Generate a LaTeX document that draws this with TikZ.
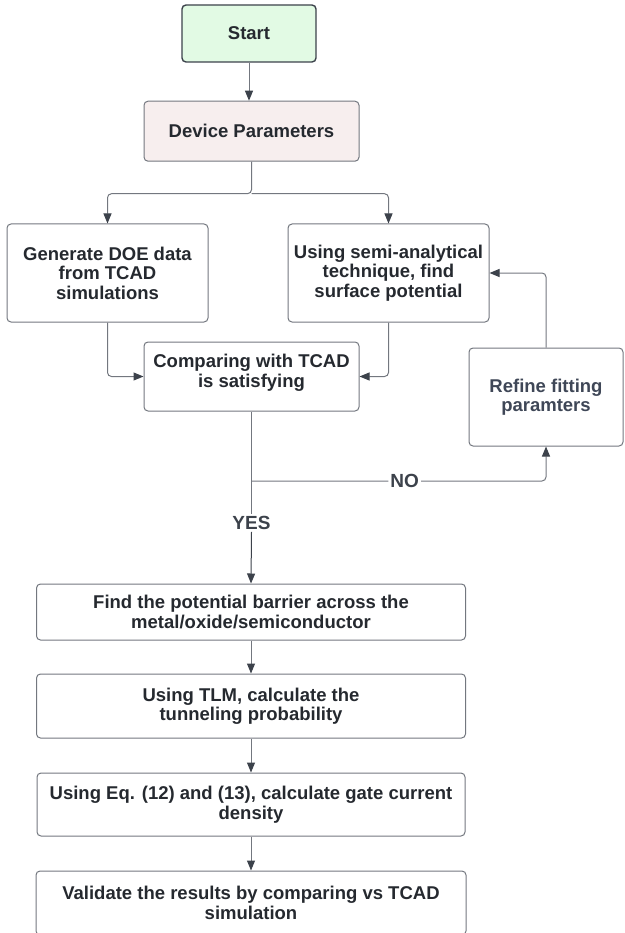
\documentclass[tikz,border=0pt]{standalone}
\usepackage{fontspec}
\setmainfont{Liberation Sans}
\usetikzlibrary{positioning,arrows.meta,calc}
\definecolor{startgreen}{HTML}{E2FAE4}
\definecolor{parampink}{HTML}{F7EEEE}
\definecolor{boxgray}{HTML}{73777F}
\definecolor{arrowgray}{HTML}{3C424B}
\definecolor{textdark}{HTML}{25292F}
\definecolor{refinetext}{HTML}{3F4757}
\tikzset{
    block/.style={rectangle, draw=boxgray, line width=1pt, rounded corners=4pt, text=textdark, align=center, inner sep=0pt, font=\fontsize{18.5}{19.5}\selectfont\bfseries},
    line/.style={draw=boxgray, line width=1pt, rounded corners=4pt, -{Triangle[length=10pt,width=8pt,color=arrowgray]}},
    plain/.style={draw=boxgray, line width=1pt, rounded corners=4pt},
    answer/.style={text=arrowgray, inner sep=2pt, font=\fontsize{19}{20}\selectfont\bfseries}
}
\begin{document}
\begin{tikzpicture}[x=1pt, y=-1pt]
    \useasboundingbox (0,0) rectangle (624,933);
    % Top of the flow
    \node [block, fill=startgreen, draw=arrowgray, line width=1.4pt, minimum width=134pt, minimum height=57pt] (start) at (249,33.5) {Start};
    \node [block, fill=parampink, minimum width=215pt, minimum height=60pt, below=38pt of start.south, anchor=north, xshift=2.5pt] (params) {Device Parameters};
    \node [block, minimum width=201pt, minimum height=98pt] (gen) at (107.5,273) {Generate DOE data\\from TCAD\\simulations};
    \node [block, minimum width=201pt, minimum height=98pt, right=79pt of gen] (semi) {Using semi-analytical\\technique, find\\surface potential};
    \node [block, minimum width=215pt, minimum height=69pt] (comp) at (251.5,376.5) {};
    \node [block, draw=none, fill=none] (comptext) at ($(comp.center)+(0,-3.5)$) {Comparing with TCAD\\is satisfying};
    \node [block, text=refinetext, minimum width=154pt, minimum height=98pt] (refine) at (546,397) {Refine fitting\\paramters};
    \node [answer] (yes) at (251.5,523) {YES};

    % Bottom of the flow
    \node [block, minimum width=429pt, minimum height=56pt] (find) at (251,612) {Find the potential barrier across the\\metal/oxide/semiconductor};
    \node [block, minimum width=429pt, minimum height=64pt, below=33pt of find] (tlm) {Using TLM, calculate the\\tunneling probability};
    \node [block, minimum width=428pt, minimum height=63pt, below=34pt of tlm] (eq) {Using Eq. (12) and (13), calculate gate current\\density};
    \node [block, minimum width=430pt, minimum height=64pt, below=34pt of eq] (valid) {Validate the results by comparing vs TCAD\\simulation};

    \coordinate (split) at ($(params.south)+(0,32)$);
    \coordinate (branch) at (comp.south |- 0,481);

    % Arrows
    \path [line] (start) -- (start |- params.north);
    \path [line] (params.south) -- (split) -| (gen.north);
    \path [line] (split) -| (semi.north);
    \path [line] (gen.south) |- (comp.west);
    \path [line] (semi.south) |- (comp.east);
    \path [line] (refine.north) |- (semi.east);
    \path [plain] (comp.south) -- (yes.north);
    \path [line] (branch) -| node [answer, fill=white, pos=0.26] (no) {NO} (refine.south);
    \path [line, draw=arrowgray] (yes.south) -- (find.north);
    \path [line] (find) -- (tlm);
    \path [line] (tlm) -- (eq);
    \path [line] (eq) -- (valid);
\end{tikzpicture}
\end{document}
